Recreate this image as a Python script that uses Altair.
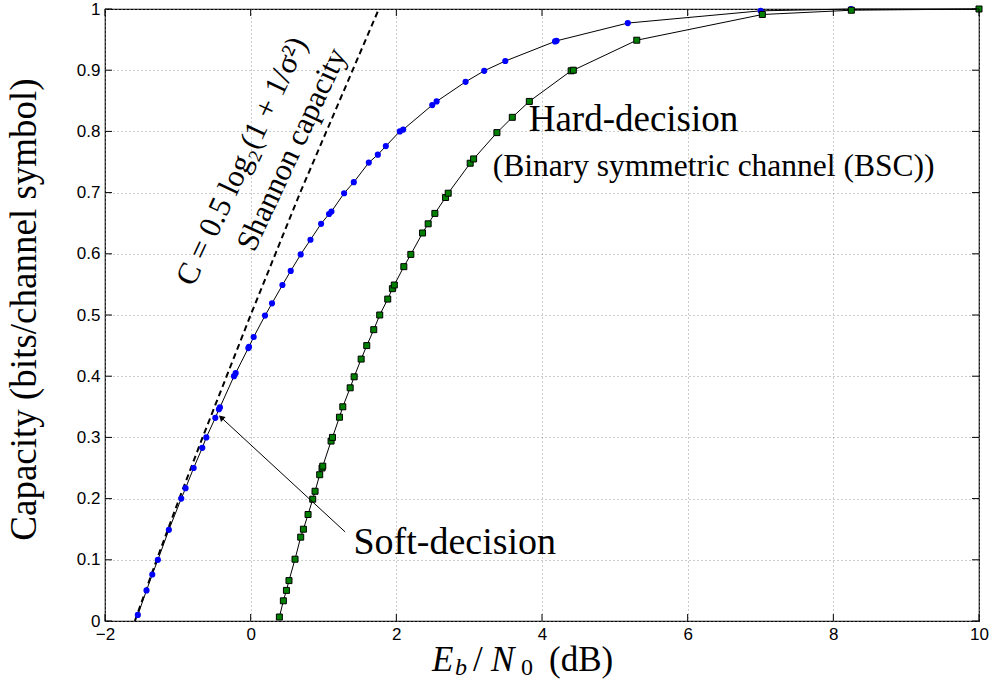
import altair as alt
import pandas as pd

# ---- data ----
soft_x = [-1.549, -1.43, -1.351, -1.274, -1.123, -0.953, -0.894, -0.783, -0.664, -0.609,
          -0.485, -0.436, -0.422, -0.229, -0.206, -0.032, -0.023, 0.041, 0.197, 0.293,
          0.436, 0.550, 0.687, 0.821, 0.967, 1.076, 1.109, 1.283, 1.416, 1.622,
          1.746, 1.856, 2.048, 2.094, 2.493, 2.553, 2.951, 3.207, 3.496, 4.179,
          4.20, 5.178, 7.002, 8.243, 10.0]
soft_y = [0.010, 0.050, 0.076, 0.100, 0.149, 0.200, 0.217, 0.250, 0.283, 0.300,
          0.332, 0.346, 0.349, 0.400, 0.405, 0.446, 0.448, 0.464, 0.499, 0.519,
          0.549, 0.572, 0.599, 0.623, 0.649, 0.665, 0.669, 0.699, 0.717, 0.749,
          0.762, 0.776, 0.800, 0.803, 0.843, 0.849, 0.881, 0.899, 0.915, 0.947,
          0.948, 0.977, 0.997, 1.000, 1.000]

hard_x = [0.394, 0.449, 0.491, 0.526, 0.609, 0.687, 0.724, 0.788, 0.852, 0.884,
          0.948, 0.980, 0.990, 1.104, 1.123, 1.219, 1.265, 1.366, 1.421, 1.517,
          1.594, 1.690, 1.772, 1.882, 1.946, 1.972, 2.103, 2.199, 2.360, 2.437,
          2.529, 2.676, 2.712, 3.014, 3.061, 3.381, 3.592, 3.826, 4.40, 4.43,
          5.301, 7.025, 8.247, 10.0]
hard_y = [0.0065, 0.033, 0.050, 0.066, 0.101, 0.137, 0.150, 0.174, 0.199, 0.212,
          0.239, 0.250, 0.253, 0.294, 0.300, 0.333, 0.350, 0.381, 0.399, 0.428,
          0.450, 0.476, 0.500, 0.526, 0.543, 0.549, 0.579, 0.599, 0.634, 0.649,
          0.666, 0.692, 0.699, 0.748, 0.755, 0.798, 0.823, 0.849, 0.899, 0.900,
          0.949, 0.991, 0.998, 1.000]

shannon_x = [-1.59, -1.29, -0.98, -0.66, -0.33, 0.0, 0.34, 0.68, 1.04, 1.40, 1.76]
shannon_y = [0.0, 0.1, 0.2, 0.3, 0.4, 0.5, 0.6, 0.7, 0.8, 0.9, 1.0]

x_ticks = [-2, 0, 2, 4, 6, 8, 10]
y_ticks = [0, 0.1, 0.2, 0.3, 0.4, 0.5, 0.6, 0.7, 0.8, 0.9, 1.0]

W, H = 874, 612
SERIF = "Liberation Serif"
SANS = "Liberation Sans"

xs = alt.Scale(domain=[-2, 10], nice=False, zero=False)
ys = alt.Scale(domain=[0, 1], nice=False, zero=False)

xaxis = alt.Axis(values=x_ticks, grid=True, gridDash=[1, 3], gridColor="#9a9a9a",
                 gridWidth=1, ticks=False, domain=False, labelFont=SANS,
                 labelFontSize=17, labelColor="black", labelPadding=5,
                 labelFlush=False, title="", format="d")
yaxis = alt.Axis(values=y_ticks, grid=True, gridDash=[1, 3], gridColor="#9a9a9a",
                 gridWidth=1, ticks=False, domain=False, labelFont=SANS,
                 labelFontSize=17, labelColor="black", labelPadding=5,
                 labelFlush=False, labelExpr="datum.value == 0 ? '0' : datum.value == 1 ? '1' : format(datum.value, '.1f')",
                 title="Capacity (bits/channel symbol)", titleFont=SERIF,
                 titleFontSize=37, titleFontWeight="normal", titleColor="black",
                 titleAngle=270, titleX=-70, titleY=300, titleAlign="center",
                 titleBaseline="alphabetic")

X = lambda f: alt.X(f, type="quantitative", scale=xs, axis=xaxis)
Y = lambda f: alt.Y(f, type="quantitative", scale=ys, axis=yaxis)

soft = pd.DataFrame({"x": soft_x, "y": soft_y, "i": list(range(len(soft_x)))})
hard = pd.DataFrame({"x": hard_x, "y": hard_y, "i": list(range(len(hard_x)))})
shan = pd.DataFrame({"x": shannon_x, "y": shannon_y, "i": list(range(len(shannon_x)))})

shannon_line = alt.Chart(shan).mark_line(color="black", strokeWidth=2, strokeDash=[6, 4]).encode(
    x=X("x"), y=Y("y"), order="i:Q")

soft_line = alt.Chart(soft).mark_line(color="black", strokeWidth=1).encode(
    x=X("x"), y=Y("y"), order="i:Q")
soft_pts = alt.Chart(soft).mark_point(shape="circle", filled=True, color="#0000ff",
                                      size=38, opacity=1).encode(x=X("x"), y=Y("y"))

hard_line = alt.Chart(hard).mark_line(color="black", strokeWidth=1).encode(
    x=X("x"), y=Y("y"), order="i:Q")
hard_pts = alt.Chart(hard).mark_point(shape="square", filled=True, fill="#008000",
                                      stroke="black", strokeWidth=1, size=36,
                                      opacity=1).encode(x=X("x"), y=Y("y"))

# inward ticks on all four sides
xt = pd.DataFrame({"v": x_ticks})
yt = pd.DataFrame({"v": y_ticks})
tick_style = dict(color="black", strokeWidth=1)
xt_bottom = alt.Chart(xt).mark_rule(**tick_style).encode(x=X("v"), y=alt.value(H), y2=alt.value(H - 7))
xt_top = alt.Chart(xt).mark_rule(**tick_style).encode(x=X("v"), y=alt.value(0), y2=alt.value(7))
yt_left = alt.Chart(yt).mark_rule(**tick_style).encode(y=Y("v"), x=alt.value(0), x2=alt.value(7))
yt_right = alt.Chart(yt).mark_rule(**tick_style).encode(y=Y("v"), x=alt.value(W - 7), x2=alt.value(W))

# annotations (data coordinates)
arrow = pd.DataFrame({"x": [1.297], "y": [0.1456], "x2": [-0.419], "y2": [0.334]})
arrow_line = alt.Chart(arrow).mark_rule(color="black", strokeWidth=1).encode(
    x=X("x"), y=Y("y"), x2="x2:Q", y2="y2:Q")
head = pd.DataFrame({"x": [-0.395], "y": [0.3315]})
arrow_head = alt.Chart(head).mark_point(shape="triangle", angle=313, filled=True,
                                        color="black", size=45, opacity=1).encode(x=X("x"), y=Y("y"))

def label(txt, x, y, size, align="left", baseline="alphabetic", angle=0):
    d = pd.DataFrame({"x": [x], "y": [y], "t": [txt]})
    kw = dict(font=SERIF, fontSize=size, color="black", align=align, baseline=baseline)
    if angle:
        kw["angle"] = angle
    return alt.Chart(d).mark_text(**kw).encode(x=X("x"), y=Y("y"), text="t:N")

soft_lbl = label("Soft-decision", 1.411, 0.110, 38)
hard_lbl = label("Hard-decision", 3.817, 0.800, 37)
bsc_lbl = label("(Binary symmetric channel (BSC))", 3.323, 0.727, 31.5)
formula_lbl = label("C = 0.5 log\u2082(1 + 1/\u03c3\u00b2)", -0.113, 0.751, 31,
                    align="center", baseline="middle", angle=295)
shannon_lbl = label("Shannon capacity", 0.574, 0.770, 31, align="center",
                    baseline="middle", angle=295)

# x axis title composed of pieces (with subscripts)
def piece(txt, px, py, size, italic=False):
    kw = dict(font=SERIF, fontSize=size, color="black", align="left", baseline="alphabetic")
    if italic:
        kw["fontStyle"] = "italic"
    return alt.Chart(pd.DataFrame({"t": [txt]})).mark_text(**kw).encode(
        x=alt.value(px), y=alt.value(py), text="t:N")

xtitle = [
    piece("E", 327, 662, 35, italic=True),
    piece("b", 350, 666, 24, italic=True),
    piece("/", 368, 662, 35),
    piece("N", 386, 662, 35, italic=True),
    piece("0", 416, 666, 24),
    piece("(dB)", 444, 662, 35),
]

chart = alt.layer(
    shannon_line, soft_line, hard_line, soft_pts, hard_pts,
    xt_bottom, xt_top, yt_left, yt_right,
    arrow_line, arrow_head,
    soft_lbl, hard_lbl, bsc_lbl, formula_lbl, shannon_lbl,
    *xtitle
).properties(
    width=W, height=H,
    autosize=alt.AutoSizeParams(type="none"),
    padding={"left": 105, "top": 9, "right": 17, "bottom": 59},
    background="white",
).configure_view(stroke="black", strokeWidth=1.2)

chart.save("out.html", embed_options={"renderer": "svg", "actions": False})
